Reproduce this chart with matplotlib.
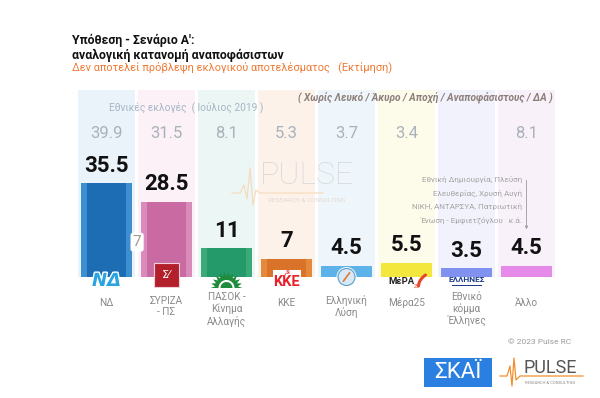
import numpy as np
import matplotlib
matplotlib.use("Agg")
import matplotlib.pyplot as plt
from matplotlib.patches import Rectangle, Circle, Polygon
import matplotlib.patheffects as pe

# chart data
parties = ["ΝΔ", "ΣΥΡΙΖΑ\n- ΠΣ", "ΠΑΣΟΚ -\nΚίνημα\nΑλλαγής", "ΚΚΕ",
           "Ελληνική\nΛύση", "Μέρα25", "Εθνικό\nκόμμα\nΈλληνες", "Άλλο"]
estimate = [35.5, 28.5, 11, 7, 4.5, 5.5, 3.5, 4.5]
value_labels = ["35.5", "28.5", "11", "7", "4.5", "5.5", "3.5", "4.5"]
elections_2019 = ["39.9", "31.5", "8.1", "5.3", "3.7", "3.4", "", "8.1"]
gap_label = "7"
other_parties = ["Εθνική Δημιουργία, Πλεύση",
                 "Ελευθερίας, Χρυσή Αυγή",
                 "ΝΙΚΗ, ΑΝΤΑΡΣΥΑ, Πατριωτική",
                 "Ένωση - Εμφιετζόγλου   κ.ά."]

bar_outer = ["#3d8fd0", "#d98cba", "#3aab78", "#e58a3c",
             "#5db2ea", "#f3e63c", "#8191f0", "#e58ae9"]
bar_inner = ["#1c6db3", "#c96aa3", "#24996a", "#d9732a",
             "#5db2ea", "#f3e63c", "#8191f0", "#e58ae9"]
col_bg = ["#eaf3fa", "#fbf1f6", "#ecf6f5", "#fdf2ea",
          "#eff6fb", "#fdfbea", "#f1f2fb", "#f9f1fa"]

plt.rcParams['font.family'] = ['Liberation Sans Narrow', 'Roboto', 'DejaVu Sans']

fig = plt.figure(figsize=(6, 3.98), dpi=100)
ax = fig.add_axes([0.1275, 0.3028, 0.8, 0.4711])
x = np.arange(len(parties))
ymax = 70.5
ax.set_xlim(-0.5, len(parties) - 0.5)
ax.set_ylim(0, ymax)
ax.axis("off")

# light background columns
ax.bar(x, [ymax] * len(x), width=0.95, color=col_bg, zorder=0)
# two-tone bars
ax.bar(x, estimate, width=0.84, color=bar_outer, zorder=2)
ax.bar(x, estimate, width=0.66, color=bar_inner, zorder=2)

for i, v in enumerate(estimate):
    ax.text(i, v + 6.6, value_labels[i], ha="center", va="center",
            fontsize=16, fontweight="bold", color="#111111", zorder=5)
    ax.text(i, 54.3, elections_2019[i], ha="center", va="center",
            fontsize=12, color="#a9b1ba")
    nlines = parties[i].count("\n")
    ax.text(i, -9.6 - 1.2 * nlines, parties[i], ha="center", va="center",
            fontsize=7.2, color="#8a8a8a", linespacing=1.15, clip_on=False)

ax.text(1.33, 63.7, "Εθνικές εκλογές  ( Ιούλιος 2019 )", ha="center",
        va="center", fontsize=7.3, color="#a7b6c6")
ax.text(7.43, 67.6, "( Χωρίς Λευκό / Άκυρο / Αποχή / Αναποφάσιστους / ΔΑ )",
        ha="right", va="center", fontsize=7.3, style="italic",
        fontweight="bold", color="#8c7f7a")

ax.text(0.51, 13.3, gap_label, ha="center", va="center", fontsize=11,
        color="#a89a8a", zorder=6,
        bbox=dict(boxstyle="round,pad=0.15", fc="white", ec="none"))

for k, line in enumerate(other_parties):
    ax.text(6.93, 36.7 - k * 5.0, line, ha="right", va="center",
            fontsize=5.8, color="#a3a3a3")
ax.annotate("", xy=(7.0, 17.1), xytext=(7.0, 37.6),
            arrowprops=dict(arrowstyle="-|>", color="#9a9a9a", lw=0.6,
                            mutation_scale=4))

# titles
fig.text(0.12, 1 - 44 / 398, "Υπόθεση - Σενάριο Α':", fontsize=8.8,
         fontweight="bold", color="#111111", va="baseline")
fig.text(0.12, 1 - 59 / 398, "αναλογική κατανομή αναποφάσιστων", fontsize=8.8,
         fontweight="bold", color="#111111", va="baseline")
fig.text(0.12, 1 - 71 / 398,
         "Δεν αποτελεί πρόβλεψη εκλογικού αποτελέσματος   (Εκτίμηση)",
         fontsize=7.9, color="#f07a34", va="baseline")

# overlay in pixel units for logos / watermark
ov = fig.add_axes([0, 0, 1, 1], zorder=10)
ov.set_xlim(0, 600)
ov.set_ylim(398, 0)
ov.axis("off")
ov.patch.set_alpha(0)


def cx(i):
    return ax.transData.transform((i, 0))[0]


# ND
ov.text(cx(0), 281, "ΝΔ", ha="center", va="center", fontsize=13,
        fontweight="bold", style="italic", color="#2aa3e2",
        family="DejaVu Sans",
        path_effects=[pe.withStroke(linewidth=2, foreground="white")])
# SYRIZA
ov.add_patch(Rectangle((cx(1) - 12.5, 263), 25, 24, fc="#b3202c",
                       ec="#f0d0d8", lw=0.8))
ov.text(cx(1), 275, "Σ⁄", ha="center", va="center", fontsize=8,
        color="white", family="DejaVu Sans")
# PASOK sun
ang = np.linspace(0, np.pi, 23)
rad = np.where(np.arange(23) % 2 == 0, 16, 11.5)
star = np.column_stack([cx(2) + rad * np.cos(ang), 288 - rad * np.sin(ang)])
ov.add_patch(Polygon(star, closed=True, fc="#1e8c3c", ec="none"))
a2 = np.linspace(0, np.pi, 30)
ov.add_patch(Polygon(np.column_stack([cx(2) + 8 * np.cos(a2), 288 - 8 * np.sin(a2)]),
                     fc="white", ec="none"))
ov.add_patch(Polygon(np.column_stack([cx(2) + 6 * np.cos(a2), 288 - 6 * np.sin(a2)]),
                     fc="#1e8c3c", ec="none"))
# KKE
ov.add_patch(Rectangle((cx(3) - 14, 270), 28, 18, fc="white", ec="none"))
ov.text(cx(3), 282, "ΚΚΕ", ha="center", va="center", fontsize=10.5,
        fontweight="bold", color="#e8212b")
ov.text(cx(3), 273, "☭", ha="center", va="center", fontsize=5,
        color="#e8212b", family="DejaVu Sans")
# Elliniki Lysi
ov.add_patch(Circle((cx(4), 277), 10, fc="white", ec="none"))
ov.add_patch(Circle((cx(4), 277), 8.5, fc="#d7e9f6", ec="#5a9cc8", lw=0.8))
ov.plot([cx(4) - 3, cx(4) + 3], [281, 273], color="#e07a30", lw=1.2)
# MeRA25
ov.text(cx(5) - 5, 282, "ΜέΡΑ", ha="center", va="center", fontsize=6.8,
        fontweight="bold", color="#222222")
ov.text(cx(5) + 10, 286, "25", ha="center", va="center", fontsize=3.6,
        color="#e8442a")
t = np.linspace(0, 1, 20)
ov.plot(cx(5) + 12 + 7 * t, 286 - 15 * t ** 0.6 + 4 * t, color="#e8442a",
        lw=2.2, solid_capstyle="round")
# ELLINES
ov.text(cx(6), 280, "ΕΛΛΗΝΕΣ", ha="center", va="center", fontsize=6,
        fontweight="bold", color="#1e3c8a")
ov.add_patch(Rectangle((cx(6) - 15, 284.5), 30, 1.8, fc="#1e3c8a", ec="none"))

# watermark
ov.text(307, 175, "PULSE", ha="center", va="center", fontsize=23,
        color="#d9d9d9", family="Roboto", fontweight="light")
ov.text(307, 201, "RESEARCH & CONSULTING", ha="center", va="center",
        fontsize=4.6, color="#e2d9d0", family="Roboto")
ov.plot([232, 240, 244, 247, 250, 253, 256, 260, 323],
        [193, 193, 185, 199, 168, 205, 190, 193, 193],
        color="#f6d9b8", lw=0.8)

# footer
ov.text(540, 342, "© 2023 Pulse RC", ha="center", va="center",
        fontsize=6, color="#9a9a9a")
ov.add_patch(Rectangle((424, 358), 68, 29, fc="#2b7fe0", ec="none"))
ov.text(458, 373, "ΣΚΑΪ", ha="center", va="center", fontsize=16,
        color="white", family="Roboto")
ov.text(550, 368, "PULSE", ha="center", va="center", fontsize=13,
        color="#555555", family="Roboto")
ov.text(550, 383, "RESEARCH & CONSULTING", ha="center", va="center",
        fontsize=3, color="#888888", family="Roboto")
ov.plot([500, 507, 510, 512, 514, 516, 520, 583],
        [376, 376, 366, 386, 358, 380, 376, 376],
        color="#f0902c", lw=0.9)

fig.savefig("out.png", dpi=100, facecolor="white")
